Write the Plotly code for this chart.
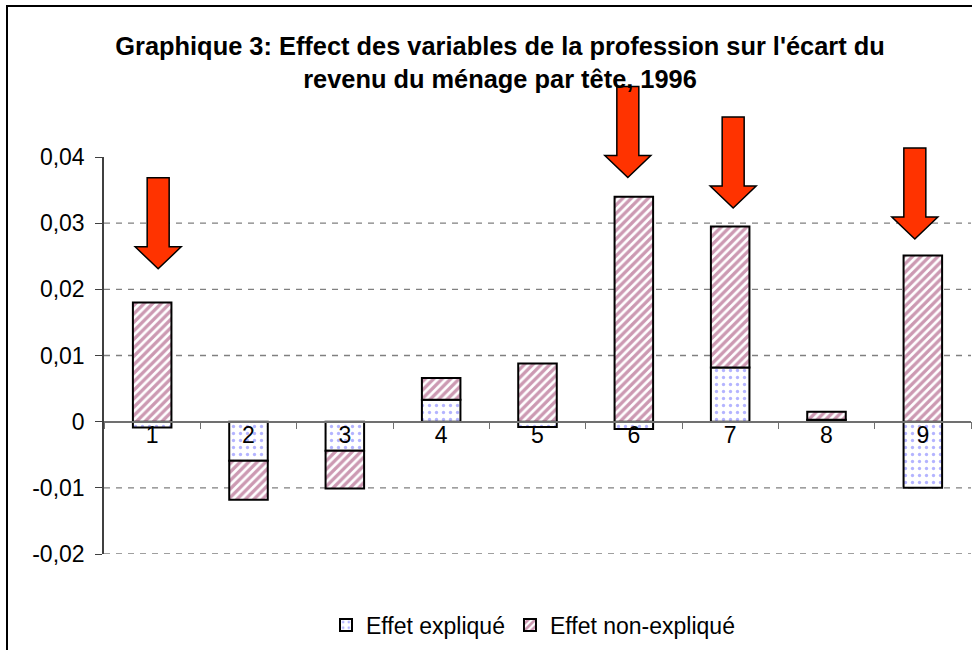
import plotly.graph_objects as go

CATEGORIES = ["1", "2", "3", "4", "5", "6", "7", "8", "9"]
EFFET_EXPLIQUE = [-0.0009, -0.0059, -0.0044, 0.0033, -0.0008, -0.0011, 0.0082, 0.0003, -0.0100]
EFFET_NON_EXPLIQUE = [0.0180, -0.0059, -0.0057, 0.0033, 0.0088, 0.0340, 0.0213, 0.0012, 0.0251]

Y_TICKS = [-0.02, -0.01, 0.0, 0.01, 0.02, 0.03, 0.04]
GRID_VALUES = [-0.02, -0.01, 0.01, 0.02, 0.03]

# highlighted professions: category, arrow tip value, small horizontal shift (px)
ARROW_CATS = ["1", "6", "7", "9"]
ARROW_TIPS = [0.0231, 0.0369, 0.0323, 0.0276]
ARROW_SHIFT = [6, -6, 3, -8]

FONT = "Arial, Liberation Sans, sans-serif"
W, H = 972, 650
L, R, T, B = 104, 1, 157, 96


def px_to_paper(x=None, y=None):
    pw, ph = W - L - R, H - T - B
    if x is not None:
        return (x - L) / pw
    return (H - B - y) / ph


def fmt_tick(v):
    if v == 0:
        return "0"
    return f"{v:.2f}".replace(".", ",")


def arrow_shape(cat, tip, shift):
    # anchored on the category / value, drawn in pixels so it is not clipped
    x_anchor = (CATEGORIES.index(cat) + 0.5) / len(CATEGORIES)
    y_anchor = (tip - Y_TICKS[0]) / (Y_TICKS[-1] - Y_TICKS[0])
    path = (
        f"M {shift},0 L {shift - 23},22 L {shift - 11},22 L {shift - 11},91 "
        f"L {shift + 11},91 L {shift + 11},22 L {shift + 23},22 Z"
    )
    return dict(
        type="path",
        xref="paper",
        yref="paper",
        xsizemode="pixel",
        ysizemode="pixel",
        xanchor=x_anchor,
        yanchor=y_anchor,
        path=path,
        fillcolor="#FF3300",
        line=dict(color="black", width=1.5),
        layer="above",
    )


fig = go.Figure()
fig.add_trace(
    go.Bar(
        x=CATEGORIES,
        y=EFFET_EXPLIQUE,
        name="Effet expliqué",
        width=0.4,
        marker=dict(
            color="white",
            line=dict(color="black", width=2),
            pattern=dict(shape=".", fgcolor="#6A6AFF", bgcolor="white", size=7, solidity=0.18),
        ),
    )
)
fig.add_trace(
    go.Bar(
        x=CATEGORIES,
        y=EFFET_NON_EXPLIQUE,
        name="Effet non-expliqué",
        width=0.4,
        marker=dict(
            color="white",
            line=dict(color="black", width=2),
            pattern=dict(shape="/", fgcolor="#993366", bgcolor="white", size=6, solidity=0.55),
        ),
    )
)

shapes = []
for g in GRID_VALUES:
    shapes.append(
        dict(
            type="line", xref="paper", yref="y", x0=0, x1=1, y0=g, y1=g,
            line=dict(color="#808080", width=1.3, dash="6px,6px"), layer="below",
        )
    )
for cat, tip, shift in zip(ARROW_CATS, ARROW_TIPS, ARROW_SHIFT):
    shapes.append(arrow_shape(cat, tip, shift))
# outer chart frame
shapes.append(
    dict(
        type="rect", xref="paper", yref="paper",
        x0=px_to_paper(x=7), x1=px_to_paper(x=990),
        y0=px_to_paper(y=670), y1=px_to_paper(y=6),
        line=dict(color="black", width=2), fillcolor="rgba(0,0,0,0)",
    )
)

fig.update_layout(
    width=W,
    height=H,
    margin=dict(l=L, r=R, t=T, b=B),
    paper_bgcolor="white",
    plot_bgcolor="white",
    barmode="relative",
    font=dict(family=FONT, size=23, color="black"),
    title=dict(
        text="Graphique 3: Effect des variables de la profession sur l'écart du<br>revenu du ménage par tête, 1996",
        font=dict(family=FONT, size=25.4, color="black", weight="bold"),
        x=500 / W,
        xanchor="center",
        y=1 - 55 / H,
        yanchor="middle",
    ),
    legend=dict(
        orientation="h",
        x=px_to_paper(x=533),
        xanchor="center",
        y=px_to_paper(y=625),
        yanchor="middle",
        font=dict(size=23),
        itemwidth=30,
    ),
    shapes=shapes,
)
fig.update_xaxes(
    type="category",
    anchor="free",
    position=(0 - Y_TICKS[0]) / (Y_TICKS[-1] - Y_TICKS[0]),
    showline=True,
    linecolor="#707070",
    linewidth=1.5,
    ticks="outside",
    tickson="boundaries",
    ticklen=7,
    tickcolor="#707070",
    ticklabelstandoff=-7,
    showgrid=False,
    zeroline=False,
)
fig.update_yaxes(
    range=[Y_TICKS[0], Y_TICKS[-1]],
    tickvals=Y_TICKS,
    ticktext=[fmt_tick(v) for v in Y_TICKS],
    ticks="outside",
    ticklen=7,
    tickcolor="#404040",
    showline=True,
    linecolor="#404040",
    linewidth=1.5,
    showgrid=False,
    zeroline=False,
    ticklabelstandoff=6,
)

fig.write_html(
    "out.html",
    config={"displayModeBar": False},
    post_script="document.body.style.margin='0px';",
)
